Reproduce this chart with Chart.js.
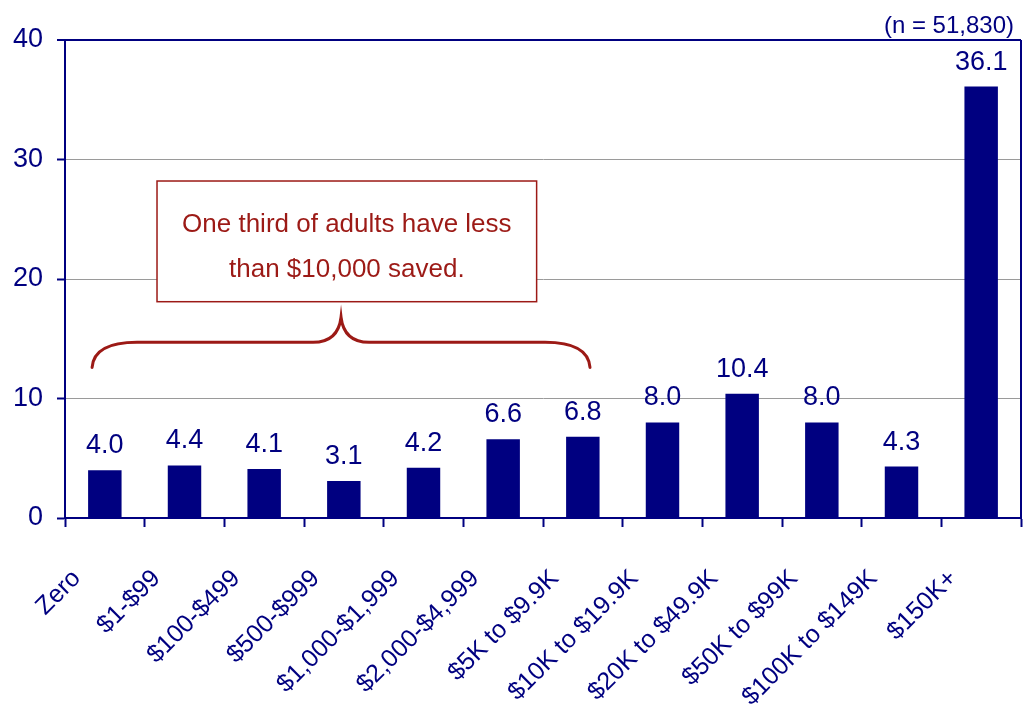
<!DOCTYPE html>
<html>
<head>
<meta charset="utf-8">
<script src="https://cdn.jsdelivr.net/npm/chart.js@4"></script>
<style>
  html, body { margin: 0; padding: 0; background: #fff; }
  canvas { display: block; }
</style>
</head>
<body>
<canvas id="savingsChart" width="1025" height="711"></canvas>
<script>
// Savings brackets and share of adults (%)
const categories = ['Zero', '$1-$99', '$100-$499', '$500-$999', '$1,000-$1,999', '$2,000-$4,999',
  '$5K to $9.9K', '$10K to $19.9K', '$20K to $49.9K', '$50K to $99K', '$100K to $149K', '$150K+'];
const shares = [4.0, 4.4, 4.1, 3.1, 4.2, 6.6, 6.8, 8.0, 10.4, 8.0, 4.3, 36.1];
const yTicks = [0, 10, 20, 30, 40];
const sampleNote = '(n = 51,830)';
const calloutLines = ['One third of adults have less', 'than $10,000 saved.'];

const NAVY = '#000080';
const RED = '#9c1a16';
const FONT = '"Liberation Sans", Arial, sans-serif';

// Value labels above each bar
const valueLabels = {
  id: 'valueLabels',
  afterDatasetsDraw(chart) {
    const ctx = chart.ctx;
    const meta = chart.getDatasetMeta(0);
    ctx.save();
    ctx.fillStyle = NAVY;
    ctx.font = `27px ${FONT}`;
    ctx.textAlign = 'center';
    ctx.textBaseline = 'alphabetic';
    meta.data.forEach((bar, i) => {
      ctx.fillText(shares[i].toFixed(1), bar.x, bar.y - 17);
    });
    ctx.restore();
  }
};

// Frame, sample size note, callout box and brace
const decorations = {
  id: 'decorations',
  afterDraw(chart) {
    const { ctx, chartArea, scales: { x, y } } = chart;
    ctx.save();

    // right border of the plot frame
    ctx.strokeStyle = NAVY;
    ctx.lineWidth = 2;
    ctx.beginPath();
    ctx.moveTo(chartArea.right, chartArea.top);
    ctx.lineTo(chartArea.right, chartArea.bottom);
    ctx.stroke();

    // sample size note
    ctx.fillStyle = NAVY;
    ctx.font = `24px ${FONT}`;
    ctx.textAlign = 'right';
    ctx.textBaseline = 'alphabetic';
    ctx.fillText(sampleNote, chartArea.right - 7, 33);

    // callout box
    const bx0 = x.getPixelForValue(0.655), bx1 = x.getPixelForValue(5.42);
    const by0 = y.getPixelForValue(28.2), by1 = y.getPixelForValue(18.1);
    ctx.fillStyle = '#fff';
    ctx.fillRect(bx0, by0, bx1 - bx0, by1 - by0);
    ctx.strokeStyle = RED;
    ctx.lineWidth = 1.5;
    ctx.strokeRect(bx0, by0, bx1 - bx0, by1 - by0);

    ctx.fillStyle = RED;
    ctx.font = `26px ${FONT}`;
    ctx.textAlign = 'center';
    const tx = (bx0 + bx1) / 2;
    ctx.fillText(calloutLines[0], tx, y.getPixelForValue(23.9));
    ctx.fillText(calloutLines[1], tx, y.getPixelForValue(20.2));

    // curly brace spanning the first seven brackets
    const l = x.getPixelForValue(-0.16), r = x.getPixelForValue(6.09);
    const c = (l + r) / 2;
    const yEnd = y.getPixelForValue(12.6);
    const yMid = y.getPixelForValue(14.7);
    const yPeak = y.getPixelForValue(16.8);
    ctx.strokeStyle = RED;
    ctx.lineWidth = 3;
    ctx.lineCap = 'round';
    ctx.beginPath();
    ctx.moveTo(l, yEnd);
    ctx.quadraticCurveTo(l + 2, yMid, l + 45, yMid);
    ctx.lineTo(c - 28, yMid);
    ctx.quadraticCurveTo(c - 3, yMid, c, yPeak);
    ctx.quadraticCurveTo(c + 3, yMid, c + 28, yMid);
    ctx.lineTo(r - 45, yMid);
    ctx.quadraticCurveTo(r - 2, yMid, r, yEnd);
    ctx.stroke();

    ctx.restore();
  }
};

new Chart(document.getElementById('savingsChart'), {
  type: 'bar',
  data: {
    labels: categories,
    datasets: [{
      data: shares,
      backgroundColor: NAVY,
      categoryPercentage: 1,
      barPercentage: 0.42
    }]
  },
  options: {
    responsive: false,
    animation: false,
    devicePixelRatio: 1,
    layout: { padding: { top: 40, right: 4, left: 0, bottom: 0 } },
    plugins: {
      legend: { display: false },
      tooltip: { enabled: false }
    },
    scales: {
      x: {
        grid: {
          offset: true,
          drawOnChartArea: false,
          tickLength: 9,
          tickColor: NAVY,
          tickWidth: 2
        },
        border: { color: NAVY, width: 2 },
        ticks: {
          color: NAVY,
          font: { family: FONT, size: 25 },
          minRotation: 45,
          maxRotation: 45,
          autoSkip: false,
          padding: 37,
          labelOffset: -28
        },
        afterFit(scale) {
          scale.height = 193;
          scale.paddingLeft = 0;
          scale.paddingRight = 0;
        }
      },
      y: {
        min: 0,
        max: 40,
        afterBuildTicks(scale) {
          scale.ticks = yTicks.map(v => ({ value: v }));
        },
        grid: {
          color: ctx => (ctx.tick && ctx.tick.value === 40 ? NAVY : '#9a9a9a'),
          lineWidth: ctx => (ctx.tick && ctx.tick.value === 40 ? 2 : 1),
          tickColor: NAVY,
          tickLength: 8,
          tickWidth: 2
        },
        border: { color: NAVY, width: 2 },
        ticks: {
          color: NAVY,
          font: { family: FONT, size: 27 },
          padding: 14
        },
        afterFit(scale) {
          scale.width = 65;
        }
      }
    }
  },
  plugins: [valueLabels, decorations]
});
</script>
</body>
</html>
